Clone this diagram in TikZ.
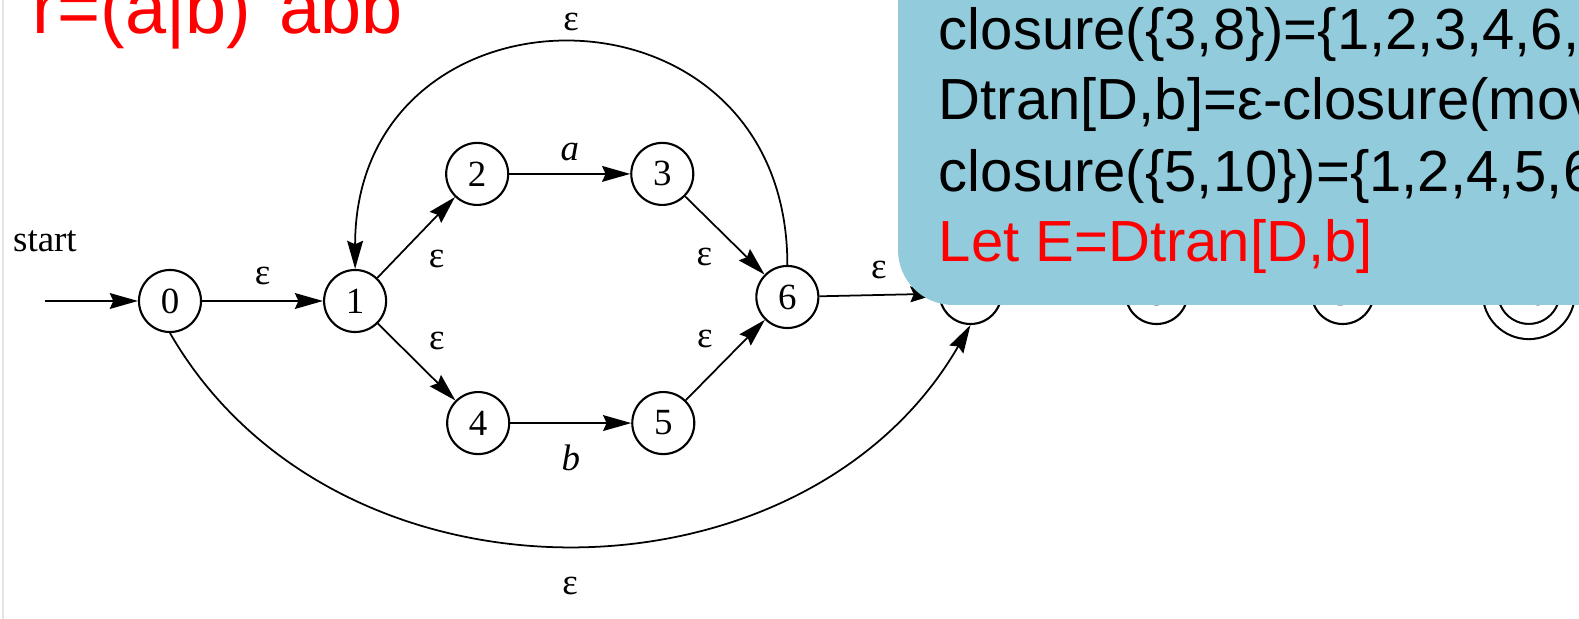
\documentclass[tikz,border=0pt]{standalone}
\usepackage{fontspec}
\setmainfont{Liberation Serif}
\setsansfont{Liberation Sans}
\usetikzlibrary{arrows.meta,positioning}
\definecolor{slideblue}{RGB}{146,203,220}
\definecolor{slidered}{RGB}{255,0,0}
\tikzset{
  place/.style={circle,draw,line width=0.6pt,minimum size=6.2mm,inner sep=0pt,
    font=\fontsize{10.5}{12}\selectfont},
  acceptplace/.style={place,double,double distance=1.3mm,minimum size=7.7mm},
  lbl/.style={font=\fontsize{10.5}{12}\selectfont},
  slidetext/.style={anchor=base west,inner sep=0pt,
    font=\sffamily\fontsize{16.5}{20}\selectfont},
}

\begin{document}
\begin{tikzpicture}[x=0.01cm,y=0.01cm,on grid,line width=0.5pt,
  >={Stealth[length=8pt,width=4.5pt,inset=1pt]}]
  \useasboundingbox (0,0) rectangle (1579,-619);
  \draw[black!10,line width=0.6pt] (3,0) -- (3,-619);

  % thompson automaton for (a|b)*abb
  \node [place] (n0) at (170,-301) {0};
  \node [place] (n1) [right=1.85cm of n0] {1};
  \node [place] (n2) [above right=1.27cm and 1.22cm of n1] {2};
  \node [place] (n3) [right=1.85cm of n2] {3};
  \node [place] (n4) [below right=1.22cm and 1.23cm of n1] {4};
  \node [place] (n5) [right=1.85cm of n4] {5};
  \node [place] (n6) [below right=1.23cm and 1.25cm of n3] {6};
  \node [place] (n7) [above right=0.04cm and 1.83cm of n6] {7};
  \node [place] (n8) [right=1.86cm of n7] {8};
  \node [place] (n9) [right=1.86cm of n8] {9};
  \node [acceptplace] (n10) [right=1.86cm of n9] {10};

  \coordinate [left=1.25cm of n0] (init);
  \node [lbl] (startlbl) [above=0.37cm of init] {start};
  \draw[->] (init) -- (n0);

  \path[->] (n0) edge node[lbl,above=1pt]{ε} (n1)
        (n1) edge node[lbl,below right]{ε} (n2)
        (n1) edge node[lbl,above right]{ε} (n4)
        (n2) edge node[lbl,above]{\textit{a}} (n3)
        (n4) edge node[lbl,below=2.5pt]{\textit{b}} (n5)
        (n3) edge node[lbl,below left]{ε} (n6)
        (n5) edge node[lbl,above left]{ε} (n6)
        (n6) edge node[lbl,above=1pt]{ε} (n7);

  \draw[->] (n6.north) to[out=90,in=90,looseness=1.76]
    node[lbl,above]{ε} (n1.north);
  \draw[->] (n0.south) to[out=-60,in=-120,looseness=1.06]
    node[lbl,below=5.5pt]{ε} (n7.south);

  % slide overlay
  \fill[slideblue,rounded corners=0.55cm] (898,-305) rectangle (1700,100);
  \node [slidetext] (line1) at (938,-50) {closure(\{3,8\})=\{1,2,3,4,6,};
  \node [slidetext] (line2) at (938,-120) {Dtran[D,b]=ε-closure(mov};
  \node [slidetext] (line3) at (938,-192) {closure(\{5,10\})=\{1,2,4,5,6};
  \node [slidetext,text=slidered] (line4) at (938,-262) {Let E=Dtran[D,b]};
  \node [slidetext,text=slidered,font=\sffamily\fontsize{21}{24}\selectfont]
    (regex) at (32,-34) {r=(a|b)\raisebox{.5em}{*}abb};
\end{tikzpicture}
\end{document}
